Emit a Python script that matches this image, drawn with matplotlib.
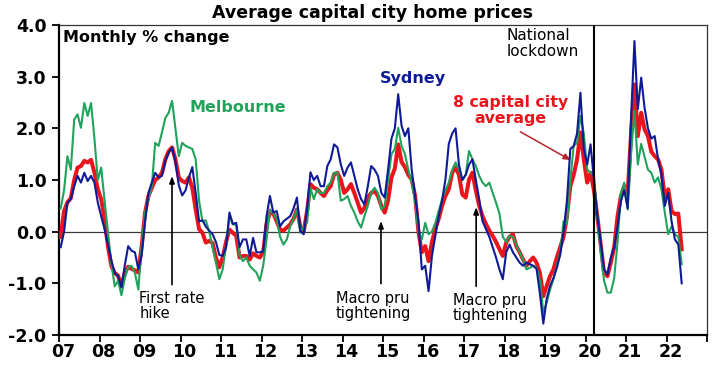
import matplotlib
matplotlib.use('Agg')
import matplotlib.pyplot as plt
import numpy as np

# Monthly % change, Jan 2007 .. May 2022
sydney = [
    -0.30, 0.00, 0.56, 0.63, 0.88, 1.08, 0.95, 1.14, 0.98, 1.08, 0.95, 0.56,   # 2007
    0.30, 0.05, -0.25, -0.55, -0.80, -0.86, -1.08, -0.65, -0.28, -0.37, -0.40, -0.73,  # 2008
    -0.45, 0.20, 0.75, 0.95, 1.14, 1.05, 1.08, 1.37, 1.53, 1.63, 1.35, 0.90,   # 2009
    0.70, 0.80, 1.05, 1.25, 0.75, 0.20, 0.22, 0.10, 0.02, -0.05, -0.20, -0.45,  # 2010
    -0.47, -0.30, 0.37, 0.15, 0.17, -0.30, -0.15, -0.15, -0.47, -0.12, -0.40, -0.40,  # 2011
    -0.38, 0.30, 0.69, 0.37, 0.40, 0.10, 0.20, 0.25, 0.30, 0.45, 0.66, 0.01,   # 2012
    -0.05, 0.43, 1.15, 1.00, 1.08, 0.88, 0.88, 1.27, 1.40, 1.69, 1.63, 1.30,   # 2013
    1.08, 1.24, 1.34, 1.08, 0.82, 0.63, 0.53, 0.88, 1.27, 1.20, 1.08, 0.75,    # 2014
    0.66, 1.20, 1.80, 2.00, 2.66, 2.05, 1.85, 2.00, 1.20, 0.70, 0.20, -0.73,   # 2015
    -0.66, -1.15, -0.47, -0.08, 0.30, 0.60, 1.01, 1.70, 1.90, 2.00, 1.30, 1.00,  # 2016
    1.10, 1.30, 1.40, 1.00, 0.63, 0.20, 0.05, -0.10, -0.30, -0.50, -0.73, -0.92,  # 2017
    -0.40, -0.25, -0.40, -0.50, -0.60, -0.66, -0.60, -0.63, -0.66, -0.72, -1.20, -1.78,  # 2018
    -1.30, -1.05, -0.90, -0.70, -0.45, 0.00, 0.60, 1.60, 1.66, 1.90, 2.69, 1.60,  # 2019
    1.30, 1.69, 1.00, 0.30, -0.20, -0.73, -0.83, -0.50, -0.30, 0.10, 0.60, 0.80,  # 2020
    0.45, 2.20, 3.69, 2.37, 2.98, 2.40, 2.00, 1.80, 1.85, 1.40, 1.10, 0.50,    # 2021
    0.75, 0.20, -0.15, -0.25, -1.00,                                            # 2022
]

melbourne = [
    0.45, 0.80, 1.46, 1.20, 2.17, 2.27, 2.01, 2.49, 2.24, 2.49, 1.80, 1.00,    # 2007
    1.24, 0.60, 0.00, -0.60, -1.06, -0.95, -1.23, -0.90, -0.69, -0.66, -0.80, -1.12,  # 2008
    -0.28, 0.37, 0.63, 0.88, 1.72, 1.66, 1.92, 2.20, 2.30, 2.53, 2.00, 1.46,   # 2009
    1.72, 1.66, 1.63, 1.60, 1.40, 0.60, 0.20, 0.22, 0.00, -0.30, -0.60, -0.92,  # 2010
    -0.73, -0.27, 0.30, 0.14, 0.14, -0.45, -0.57, -0.50, -0.66, -0.73, -0.79, -0.95,  # 2011
    -0.66, -0.15, 0.43, 0.35, 0.24, -0.10, -0.25, -0.15, 0.10, 0.25, 0.43, -0.02,  # 2012
    0.10, 0.17, 0.85, 0.63, 0.82, 0.75, 0.75, 0.88, 0.95, 1.14, 1.14, 0.60,    # 2013
    0.63, 0.69, 0.50, 0.37, 0.20, 0.08, 0.30, 0.50, 0.75, 0.85, 0.75, 0.43,    # 2014
    0.50, 1.00, 1.50, 1.60, 2.01, 1.66, 1.50, 1.20, 0.95, 0.60, 0.00, -0.15,   # 2015
    0.17, -0.05, 0.00, 0.17, 0.40, 0.63, 0.80, 0.95, 1.20, 1.34, 1.20, 1.00,   # 2016
    1.10, 1.56, 1.40, 1.27, 1.08, 0.95, 0.88, 0.95, 0.75, 0.56, 0.35, -0.10,   # 2017
    -0.20, -0.08, -0.10, -0.25, -0.40, -0.55, -0.73, -0.70, -0.66, -0.70, -0.95, -1.57,  # 2018
    -1.37, -1.12, -0.92, -0.66, -0.40, 0.20, 0.15, 1.00, 1.66, 1.72, 2.24, 1.90,  # 2019
    1.20, 1.14, 1.10, 0.30, -0.40, -0.95, -1.18, -1.18, -0.90, -0.20, 0.75, 0.95,  # 2020
    0.43, 1.50, 2.34, 1.30, 1.70, 1.45, 1.20, 1.14, 0.95, 1.05, 0.82, 0.37,    # 2021
    -0.05, 0.10, -0.05, -0.10, -0.63,                                           # 2022
]

average = [
    -0.10, 0.40, 0.57, 0.65, 1.00, 1.24, 1.27, 1.37, 1.34, 1.39, 1.14, 0.82,   # 2007
    0.63, 0.24, -0.28, -0.66, -0.80, -0.85, -1.05, -0.80, -0.68, -0.72, -0.75, -0.79,  # 2008
    -0.28, 0.37, 0.69, 0.85, 1.00, 1.05, 1.14, 1.40, 1.56, 1.63, 1.40, 1.05,   # 2009
    0.98, 0.95, 1.05, 0.85, 0.43, 0.05, -0.02, -0.21, -0.18, -0.22, -0.50, -0.69,  # 2010
    -0.50, -0.20, 0.04, -0.02, -0.08, -0.50, -0.47, -0.47, -0.54, -0.42, -0.47, -0.50,  # 2011
    -0.40, 0.15, 0.37, 0.35, 0.20, 0.04, 0.02, 0.08, 0.14, 0.25, 0.43, 0.10,   # 2012
    0.00, 0.40, 0.92, 0.85, 0.82, 0.75, 0.69, 0.80, 0.88, 1.11, 1.14, 1.00,    # 2013
    0.75, 0.82, 0.92, 0.75, 0.56, 0.37, 0.46, 0.66, 0.75, 0.79, 0.69, 0.50,    # 2014
    0.37, 0.60, 1.05, 1.22, 1.69, 1.35, 1.25, 1.10, 1.01, 0.70, 0.00, -0.40,   # 2015
    -0.28, -0.57, -0.20, 0.05, 0.25, 0.50, 0.69, 0.82, 1.14, 1.24, 1.10, 0.72,  # 2016
    0.66, 1.01, 1.14, 0.80, 0.50, 0.30, 0.15, 0.02, -0.08, -0.20, -0.34, -0.47,  # 2017
    -0.21, -0.10, -0.05, -0.28, -0.40, -0.54, -0.66, -0.57, -0.50, -0.60, -0.80, -1.25,  # 2018
    -1.05, -0.86, -0.73, -0.50, -0.30, -0.10, 0.30, 0.88, 1.10, 1.40, 1.92, 1.40,  # 2019
    0.95, 1.14, 0.80, 0.30, -0.25, -0.80, -0.86, -0.60, -0.30, 0.30, 0.69, 0.88,  # 2020
    0.75, 1.90, 2.85, 1.85, 2.30, 1.98, 1.85, 1.55, 1.46, 1.40, 1.20, 0.66,    # 2021
    0.82, 0.40, 0.34, 0.35, -0.34,                                              # 2022
]

year_labels = ['07', '08', '09', '10', '11', '12', '13', '14', '15',
               '16', '17', '18', '19', '20', '21', '22']
first_year = 2007
y_ticks = [-2.0, -1.0, 0.0, 1.0, 2.0, 3.0, 4.0]

C_SYD = '#0E1A96'
C_MEL = '#1FA35A'
C_AVG = '#E8161C'

months = np.arange(len(sydney))
x = first_year + (months + 0.5) / 12.0

fig = plt.figure(figsize=(7.2, 3.72), dpi=100)
ax = fig.add_axes([59 / 720, 1 - 335 / 372, 648 / 720, 310 / 372])

ax.plot(x, average, color=C_AVG, lw=2.9, zorder=3, solid_joinstyle='round')
ax.plot(x, melbourne, color=C_MEL, lw=1.5, zorder=4)
ax.plot(x, sydney, color=C_SYD, lw=1.5, zorder=5)

ax.axhline(0, color='#3a3a3a', lw=0.9, zorder=2)

ax.set_xlim(2007, 2023)
ax.set_ylim(-2, 4)

ax.set_yticks(y_ticks)
ax.set_yticklabels(['%.1f' % v for v in y_ticks])
ax.set_xticks(np.arange(2007, 2024))
ax.set_xticklabels([])
ax.set_xticks([first_year + i + 0.1 for i in range(len(year_labels))], minor=True)
ax.set_xticklabels(year_labels, minor=True)
ax.tick_params(axis='x', which='minor', length=0, pad=6)
ax.tick_params(axis='x', which='major', direction='out', length=5, width=1.3)
ax.tick_params(axis='y', direction='out', length=5, width=1.3, pad=4)
for lab in ax.get_xticklabels(minor=True) + ax.get_yticklabels():
    lab.set_fontweight('bold')
    lab.set_fontsize(12.5)
    lab.set_family('DejaVu Sans')

for s in ['left', 'bottom']:
    ax.spines[s].set_linewidth(1.6)
    ax.spines[s].set_color('black')
for s in ['top', 'right']:
    ax.spines[s].set_linewidth(0.9)
    ax.spines[s].set_color('#333333')

fig.text(0.517, 0.966, 'Average capital city home prices', ha='center', va='center',
         fontsize=12.5, fontweight='bold', family='DejaVu Sans')

ax.text(2007.1, 3.75, 'Monthly % change', ha='left', va='center',
        fontsize=11.5, fontweight='bold')
ax.text(2010.23, 2.40, 'Melbourne', ha='left', va='center', color=C_MEL,
        fontsize=11.5, fontweight='bold')
ax.text(2014.93, 2.97, 'Sydney', ha='left', va='center', color=C_SYD,
        fontsize=11.5, fontweight='bold')
ax.text(2018.14, 2.34, '8 capital city\naverage', ha='center', va='center',
        color=C_AVG, fontsize=11.3, fontweight='bold', linespacing=1.05)
ax.annotate('', xy=(2019.69, 1.36), xytext=(2018.33, 1.96),
            arrowprops=dict(arrowstyle='-|>,head_length=0.4,head_width=0.18',
                            color='#B5252B', lw=1.1))

ax.text(2018.06, 3.64, 'National\nlockdown', ha='left', va='center',
        fontsize=11, linespacing=1.1)
ax.axvline(2020.21, color='black', lw=1.5, zorder=6)

ax.text(2008.98, -1.44, 'First rate\nhike', ha='left', va='center',
        fontsize=10.5, linespacing=0.95)
ax.annotate('', xy=(2009.79, 1.13), xytext=(2009.79, -1.08),
            arrowprops=dict(arrowstyle='-|>,head_length=0.4,head_width=0.15',
                            color='black', lw=1.2), zorder=7)

ax.text(2013.84, -1.44, 'Macro pru\ntightening', ha='left', va='center',
        fontsize=10.5, linespacing=0.95)
ax.annotate('', xy=(2014.95, 0.26), xytext=(2014.95, -1.06),
            arrowprops=dict(arrowstyle='-|>,head_length=0.4,head_width=0.15',
                            color='black', lw=1.2), zorder=7)

ax.text(2016.73, -1.48, 'Macro pru\ntightening', ha='left', va='center',
        fontsize=10.5, linespacing=0.95)
ax.annotate('', xy=(2017.30, 0.53), xytext=(2017.30, -1.11),
            arrowprops=dict(arrowstyle='-|>,head_length=0.4,head_width=0.15',
                            color='black', lw=1.2), zorder=7)

fig.savefig('out.png', dpi=100)
